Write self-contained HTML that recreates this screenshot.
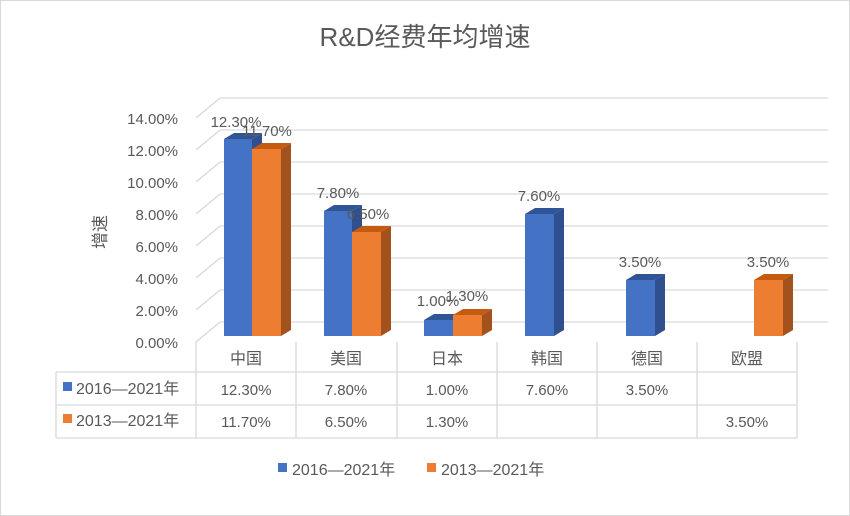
<!DOCTYPE html>
<html><head><meta charset="utf-8"><style>
body{margin:0;background:#fff}
svg{display:block}
text{font-family:"Liberation Sans","Noto Sans CJK SC",sans-serif;fill:#595959}
</style></head><body>
<svg width="850" height="516" viewBox="0 0 850 516" xmlns="http://www.w3.org/2000/svg">
<rect x="0.5" y="0.5" width="849" height="515" fill="#fff" stroke="#d9d9d9"/>
<text x="425" y="46" font-size="26" text-anchor="middle">R&amp;D经费年均增速</text>
<g stroke="#d9d9d9" stroke-width="1.3" fill="none">
<line x1="220" y1="98" x2="828" y2="98"/><line x1="196" y1="118" x2="220" y2="98"/>
<line x1="220" y1="130" x2="828" y2="130"/><line x1="196" y1="150" x2="220" y2="130"/>
<line x1="220" y1="162" x2="828" y2="162"/><line x1="196" y1="182" x2="220" y2="162"/>
<line x1="220" y1="194" x2="828" y2="194"/><line x1="196" y1="214" x2="220" y2="194"/>
<line x1="220" y1="226" x2="828" y2="226"/><line x1="196" y1="246" x2="220" y2="226"/>
<line x1="220" y1="258" x2="828" y2="258"/><line x1="196" y1="278" x2="220" y2="258"/>
<line x1="220" y1="290" x2="828" y2="290"/><line x1="196" y1="310" x2="220" y2="290"/>
<line x1="220" y1="322" x2="828" y2="322"/><line x1="196" y1="342" x2="220" y2="322"/>
</g>
<g font-size="15" text-anchor="end">
<text x="178" y="124">14.00%</text><text x="178" y="156">12.00%</text><text x="178" y="188">10.00%</text>
<text x="178" y="220">8.00%</text><text x="178" y="252">6.00%</text><text x="178" y="284">4.00%</text>
<text x="178" y="316">2.00%</text><text x="178" y="348">0.00%</text>
</g>
<text x="0" y="0" font-size="17" transform="translate(106,232) rotate(-90)" text-anchor="middle">增速</text>
<!-- bars -->
<g id="bars"></g>
<g>
<!-- helper: front rect, top, side -->
<!-- China blue 12.3 -->
<rect x="224" y="139" width="28" height="197" fill="#4472c4"/><polygon points="224,139 234,133 262,133 252,139" fill="#2f5597"/><polygon points="252,139 262,133 262,330 252,336" fill="#2f4f8f"/>
<rect x="252" y="149" width="29" height="187" fill="#ed7d31"/><polygon points="252,149 262,143 291,143 281,149" fill="#c55a11"/><polygon points="281,149 291,143 291,330 281,336" fill="#a3521e"/>
<!-- USA -->
<rect x="324" y="211" width="28" height="125" fill="#4472c4"/><polygon points="324,211 334,205 362,205 352,211" fill="#2f5597"/><polygon points="352,211 362,205 362,330 352,336" fill="#2f4f8f"/>
<rect x="352" y="232" width="29" height="104" fill="#ed7d31"/><polygon points="352,232 362,226 391,226 381,232" fill="#c55a11"/><polygon points="381,232 391,226 391,330 381,336" fill="#a3521e"/>
<!-- Japan -->
<rect x="424" y="320" width="29" height="16" fill="#4472c4"/><polygon points="424,320 434,314 463,314 453,320" fill="#2f5597"/>
<rect x="453" y="315" width="29" height="21" fill="#ed7d31"/><polygon points="453,315 463,309 492,309 482,315" fill="#c55a11"/><polygon points="482,315 492,309 492,330 482,336" fill="#a3521e"/>
<!-- Korea -->
<rect x="525" y="214" width="29" height="122" fill="#4472c4"/><polygon points="525,214 535,208 564,208 554,214" fill="#2f5597"/><polygon points="554,214 564,208 564,330 554,336" fill="#2f4f8f"/>
<!-- Germany -->
<rect x="626" y="280" width="29" height="56" fill="#4472c4"/><polygon points="626,280 636,274 665,274 655,280" fill="#2f5597"/><polygon points="655,280 665,274 665,330 655,336" fill="#2f4f8f"/>
<!-- EU -->
<rect x="754" y="280" width="29" height="56" fill="#ed7d31"/><polygon points="754,280 764,274 793,274 783,280" fill="#c55a11"/><polygon points="783,280 793,274 793,330 783,336" fill="#a3521e"/>
</g>
<g font-size="15" text-anchor="middle">
<text x="236" y="127">12.30%</text><text x="267" y="136">11.70%</text>
<text x="338" y="198">7.80%</text><text x="368" y="219">6.50%</text>
<text x="438" y="306">1.00%</text><text x="467" y="301">1.30%</text>
<text x="539" y="201">7.60%</text><text x="640" y="267">3.50%</text><text x="768" y="267">3.50%</text>
</g>
<!-- table -->
<g stroke="#d9d9d9" stroke-width="1.3" fill="none">
<line x1="196" y1="342" x2="196" y2="438"/>
<line x1="296" y1="342" x2="296" y2="438"/><line x1="397" y1="342" x2="397" y2="438"/>
<line x1="497" y1="342" x2="497" y2="438"/><line x1="597" y1="342" x2="597" y2="438"/>
<line x1="697" y1="342" x2="697" y2="438"/><line x1="797" y1="342" x2="797" y2="438"/>
<line x1="56" y1="372" x2="797" y2="372"/><line x1="56" y1="405" x2="797" y2="405"/><line x1="56" y1="438" x2="797" y2="438"/>
<line x1="56" y1="372" x2="56" y2="438"/>
</g>
<g font-size="16" text-anchor="middle">
<text x="246" y="364">中国</text><text x="346" y="364">美国</text><text x="447" y="364">日本</text>
<text x="547" y="364">韩国</text><text x="647" y="364">德国</text><text x="747" y="364">欧盟</text>
</g>
<g font-size="15" text-anchor="middle">
<text x="246" y="395">12.30%</text><text x="346" y="395">7.80%</text><text x="447" y="395">1.00%</text>
<text x="547" y="395">7.60%</text><text x="647" y="395">3.50%</text>
<text x="246" y="427">11.70%</text><text x="346" y="427">6.50%</text><text x="447" y="427">1.30%</text>
<text x="747" y="427">3.50%</text>
</g>
<rect x="63" y="382" width="9" height="9" fill="#4472c4"/><text x="76" y="394" font-size="16">2016—2021年</text>
<rect x="63" y="414" width="9" height="9" fill="#ed7d31"/><text x="76" y="426" font-size="16">2013—2021年</text>
<rect x="278" y="463" width="9" height="9" fill="#4472c4"/><text x="292" y="475" font-size="16">2016—2021年</text>
<rect x="427" y="463" width="9" height="9" fill="#ed7d31"/><text x="441" y="475" font-size="16">2013—2021年</text>
</svg>
</body></html>
